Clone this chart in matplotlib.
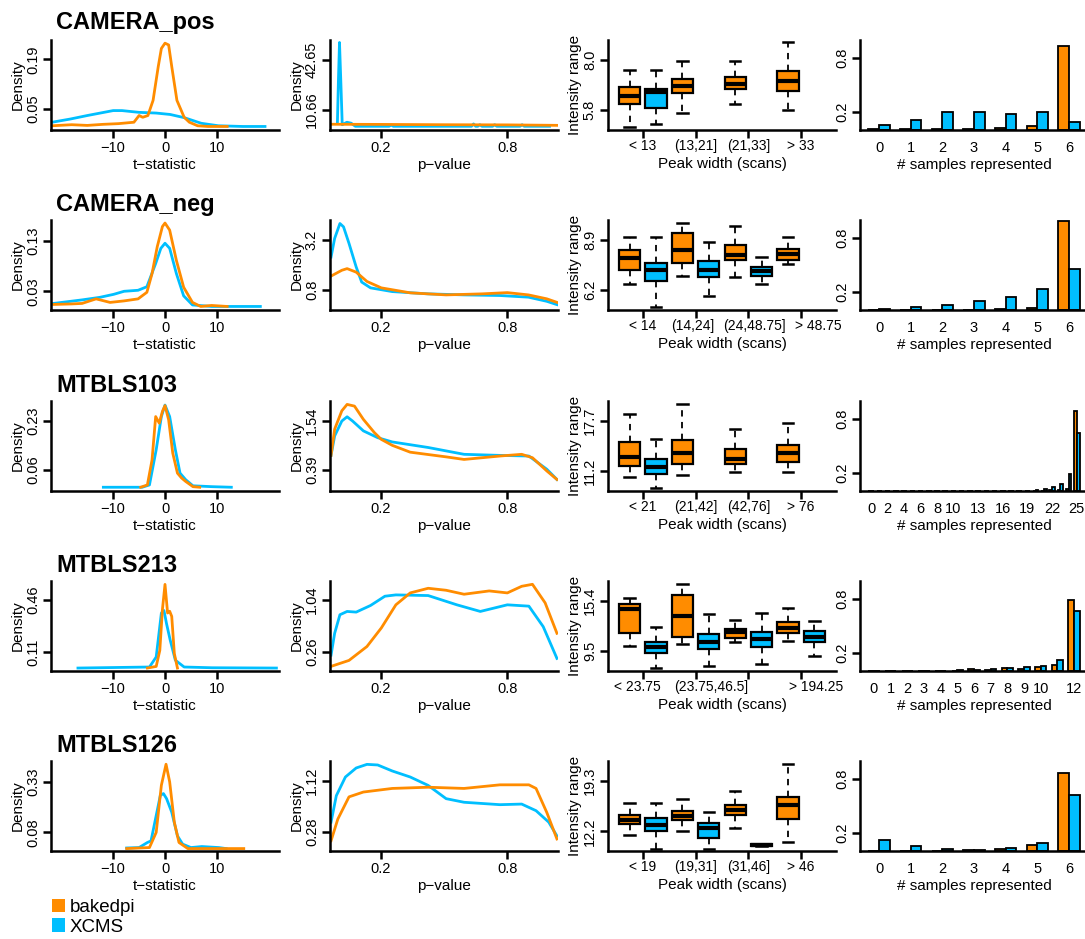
import matplotlib
matplotlib.use("Agg")
import matplotlib.pyplot as plt
from matplotlib.patches import Patch

plt.rcParams['font.family'] = ['Liberation Sans', 'DejaVu Sans']

ORANGE = '#FF8C00'
BLUE = '#00BFFF'

datasets = ['CAMERA_pos', 'CAMERA_neg', 'MTBLS103', 'MTBLS213', 'MTBLS126']

# ---- t-statistic densities (x, y) ----
cpos_t_bk_x = [-21.8, -18, -15, -12, -9, -6, -5, -4.3, -3.3, -2.3, -1.3, -0.7, 0, 0.7, 1.3, 2.3, 3.7, 4.7, 6.3, 8.3, 12]
cpos_t_bk_y = [0.002, 0.005, 0.003, 0.006, 0.008, 0.012, 0.031, 0.026, 0.031, 0.074, 0.17, 0.221, 0.236, 0.231, 0.17, 0.074, 0.026, 0.012, 0.002, 0.0, 0.0]
cpos_t_xc_x = [-21.8, -18.3, -15, -10, -8.3, -5, -1.7, 1, 3.7, 7, 10.3, 15, 19.3]
cpos_t_xc_y = [0.012, 0.021, 0.031, 0.045, 0.045, 0.040, 0.038, 0.034, 0.025, 0.009, 0.002, 0.0, 0.0]

cneg_t_bk_x = [-21.5, -18, -16, -13.3, -10.6, -7.9, -5.2, -3.5, -2.5, -1.5, -0.5, 0, 0.9, 2.2, 3.6, 5.3, 6.9, 9, 12]
cneg_t_bk_y = [0.004, 0.005, 0.006, 0.015, 0.008, 0.011, 0.015, 0.028, 0.065, 0.118, 0.158, 0.165, 0.151, 0.091, 0.038, 0.008, 0.0, 0.002, 0.0]
cneg_t_xc_x = [-21.5, -16, -12.6, -9.9, -7.9, -5.2, -3.5, -1.8, -0.8, 0, 0.9, 2.2, 3.6, 5.3, 9, 18.4]
cneg_t_xc_y = [0.006, 0.013, 0.018, 0.024, 0.030, 0.032, 0.039, 0.085, 0.115, 0.125, 0.115, 0.065, 0.021, 0.003, 0.0, 0.0]

m103_t_bk_x = [-4.7, -3.4, -2.5, -1.8, -1.1, -0.5, 0, 0.7, 1.5, 2.4, 3.2, 4, 5.4, 6.7]
m103_t_bk_y = [0, 0.008, 0.095, 0.245, 0.222, 0.263, 0.283, 0.234, 0.118, 0.049, 0.032, 0.02, 0.002, 0]
m103_t_xc_x = [-11.9, -4.4, -3, -1.7, -0.7, 0, 0.9, 2, 2.9, 4, 5.4, 9.1, 12.8]
m103_t_xc_y = [0, 0, 0.008, 0.13, 0.245, 0.285, 0.245, 0.13, 0.049, 0.026, 0.005, 0.002, 0]

m213_t_bk_x = [-3.4, -1.7, -1, -0.5, 0, 0.5, 0.9, 1.3, 1.8, 2.4]
m213_t_bk_y = [0, 0.011, 0.12, 0.396, 0.567, 0.373, 0.385, 0.35, 0.098, 0]
m213_t_xc_x = [-16.8, -3, -1.7, -0.7, -0.2, 0.3, 1, 2, 3.7, 9.1, 21.5]
m213_t_xc_y = [0, 0.007, 0.075, 0.373, 0.39, 0.30, 0.19, 0.053, 0.007, 0.002, 0]

m126_t_bk_x = [-7.4, -3, -1.7, -0.7, 0.2, 0.9, 1.8, 2.7, 4.4, 15.2]
m126_t_bk_y = [0, 0.005, 0.08, 0.313, 0.417, 0.33, 0.13, 0.03, 0, 0]
m126_t_xc_x = [-7.4, -5, -3.4, -2.7, -1.7, -0.9, -0.3, 0.3, 1.3, 2.4, 3.4, 5, 7.1, 10.4, 11.8]
m126_t_xc_y = [0.003, 0.005, 0.03, 0.038, 0.163, 0.263, 0.272, 0.247, 0.18, 0.063, 0.022, 0.005, 0.01, 0.005, 0]

# ---- p-value densities ----
cpos_p_bk_x = [-0.035, 0.2, 0.5, 0.8, 1.035]
cpos_p_bk_y = [1.3, 1.2, 1.0, 0.9, 0.6]
cpos_p_xc_x = [-0.005, 0.0, 0.005, 0.011, 0.018, 0.04, 0.06, 0.08, 0.24, 0.25, 0.26, 0.63, 0.64, 0.65, 0.66, 0.67, 0.68, 0.73, 0.74, 0.75, 0.86, 0.87, 0.88, 1.0]
cpos_p_xc_y = [2, 30, 54, 30, 1, 2.6, 2, 0, 0, 0.8, 0, 0, 1.5, 0, 0, 1, 0, 0, 1, 0, 0, 1, 0, 0]

cneg_p_bk_x = [-0.035, 0.016, 0.041, 0.084, 0.135, 0.203, 0.34, 0.51, 0.68, 0.8, 0.9, 0.987, 1.035]
cneg_p_bk_y = [1.46, 1.74, 1.82, 1.65, 1.2, 0.89, 0.65, 0.55, 0.6, 0.66, 0.55, 0.36, 0.19]
cneg_p_xc_x = [-0.035, -0.018, 0.007, 0.024, 0.05, 0.084, 0.11, 0.152, 0.255, 0.425, 0.595, 0.765, 0.9, 0.987, 1.035]
cneg_p_xc_y = [2.38, 3.28, 4.0, 3.84, 3.04, 1.9, 1.17, 0.89, 0.71, 0.6, 0.55, 0.52, 0.44, 0.24, 0.08]

m103_p_bk_x = [-0.035, -0.018, 0.016, 0.041, 0.076, 0.118, 0.17, 0.203, 0.255, 0.34, 0.51, 0.595, 0.765, 0.868, 0.919, 0.987, 1.035]
m103_p_bk_y = [0.735, 1.35, 1.78, 1.93, 1.89, 1.58, 1.27, 1.11, 0.97, 0.81, 0.70, 0.64, 0.72, 0.76, 0.68, 0.37, 0.17]
m103_p_xc_x = [-0.035, -0.018, 0.016, 0.041, 0.067, 0.118, 0.186, 0.255, 0.425, 0.595, 0.765, 0.902, 0.987, 1.035]
m103_p_xc_y = [0.735, 1.19, 1.54, 1.64, 1.54, 1.31, 1.15, 1.05, 0.92, 0.76, 0.735, 0.72, 0.41, 0.17]

m213_p_bk_x = [-0.035, 0.05, 0.135, 0.203, 0.272, 0.34, 0.425, 0.51, 0.595, 0.714, 0.8, 0.868, 0.919, 0.979, 1.035]
m213_p_bk_y = [0.04, 0.13, 0.34, 0.62, 0.97, 1.15, 1.22, 1.19, 1.13, 1.18, 1.15, 1.25, 1.28, 1.0, 0.54]
m213_p_xc_x = [-0.035, -0.018, 0.007, 0.041, 0.084, 0.152, 0.22, 0.272, 0.425, 0.561, 0.672, 0.8, 0.902, 0.97, 1.035]
m213_p_xc_y = [0.21, 0.54, 0.82, 0.87, 0.86, 0.96, 1.10, 1.12, 1.11, 0.97, 0.87, 0.97, 0.95, 0.64, 0.16]

m126_p_bk_x = [-0.035, -0.003, 0.05, 0.118, 0.255, 0.425, 0.595, 0.765, 0.902, 0.936, 0.987, 1.035]
m126_p_bk_y = [0.13, 0.49, 0.86, 0.94, 1.0, 1.02, 1.0, 1.06, 1.06, 1.0, 0.60, 0.16]
m126_p_xc_x = [-0.035, -0.01, 0.033, 0.084, 0.135, 0.186, 0.255, 0.34, 0.425, 0.51, 0.595, 0.765, 0.868, 0.936, 0.996, 1.035]
m126_p_xc_y = [0.44, 0.88, 1.19, 1.34, 1.40, 1.39, 1.29, 1.19, 1.05, 0.83, 0.77, 0.73, 0.74, 0.63, 0.44, 0.21]

# ---- boxplots: slot (odd = bakedpi, even = XCMS), whisker low, q1, median, q3, whisker high ----
cpos_box_slot = [1, 2, 3, 5, 7]
cpos_box_lo = [5.04, 5.16, 5.65, 6.04, 5.79]
cpos_box_q1 = [6.06, 5.88, 6.53, 6.71, 6.65]
cpos_box_med = [6.43, 6.60, 6.85, 6.95, 7.06]
cpos_box_q3 = [6.80, 6.73, 7.18, 7.25, 7.51]
cpos_box_hi = [7.55, 7.58, 7.96, 7.96, 8.78]

cneg_box_slot = [1, 2, 3, 4, 5, 6, 7]
cneg_box_lo = [6.53, 5.29, 6.95, 5.87, 6.89, 6.53, 7.59]
cneg_box_q1 = [7.26, 6.67, 7.66, 6.89, 7.84, 6.93, 7.84]
cneg_box_med = [7.95, 7.29, 8.39, 7.29, 8.10, 7.22, 8.13]
cneg_box_q3 = [8.35, 7.66, 9.26, 7.75, 8.66, 7.44, 8.41]
cneg_box_hi = [9.05, 9.05, 9.85, 8.81, 9.67, 7.99, 9.08]

m103_box_slot = [1, 2, 3, 5, 7]
m103_box_lo = [10.45, 9.0, 10.67, 11.11, 11.11]
m103_box_q1 = [11.86, 10.89, 12.08, 12.12, 12.43]
m103_box_med = [13.09, 11.77, 13.53, 12.78, 13.62]
m103_box_q3 = [15.06, 12.74, 15.28, 14.10, 14.63]
m103_box_hi = [18.71, 15.37, 19.98, 16.69, 17.48]

m213_box_slot = [1, 2, 3, 4, 5, 6, 7, 8]
m213_box_lo = [10.14, 7.51, 10.34, 7.75, 10.62, 8.03, 10.70, 8.90]
m213_box_q1 = [11.61, 9.30, 11.13, 9.74, 11.10, 10.02, 11.61, 10.54]
m213_box_med = [14.52, 9.94, 13.61, 10.62, 11.73, 10.94, 12.21, 11.21]
m213_box_q3 = [15.08, 10.62, 16.12, 11.49, 12.09, 11.73, 12.93, 11.93]
m213_box_hi = [15.80, 12.33, 17.47, 13.93, 13.21, 14.00, 14.60, 13.09]

m126_box_slot = [1, 2, 3, 4, 5, 6, 7]
m126_box_lo = [11.68, 9.77, 12.20, 9.77, 12.63, 10.10, 10.77]
m126_box_q1 = [13.25, 12.20, 13.82, 11.34, 14.58, 10.12, 13.96]
m126_box_med = [13.87, 13.15, 14.44, 12.68, 15.25, 10.29, 16.01]
m126_box_q3 = [14.58, 14.06, 15.06, 13.39, 16.01, 10.45, 17.06]
m126_box_hi = [16.25, 16.25, 16.73, 14.92, 17.92, 10.47, 21.68]

cpos_width_labels = ['< 13', '(13,21]', '(21,33]', '> 33']
cneg_width_labels = ['< 14', '(14,24]', '(24,48.75]', '> 48.75']
m103_width_labels = ['< 21', '(21,42]', '(42,76]', '> 76']
m213_width_labels = ['< 23.75', '(23.75,46.5]', '', '> 194.25']
m126_width_labels = ['< 19', '(19,31]', '(31,46]', '> 46']

# ---- fraction of features by number of samples represented ----
cpos_n_bk = [0.008, 0.008, 0.008, 0.012, 0.02, 0.046, 0.936]
cpos_n_xc = [0.057, 0.115, 0.195, 0.195, 0.183, 0.195, 0.088]
cneg_n_bk = [0.005, 0.004, 0.004, 0.005, 0.015, 0.023, 0.994]
cneg_n_xc = [0.011, 0.034, 0.054, 0.10, 0.145, 0.23, 0.46]
m103_n_bk = [0.003] * 20 + [0.004, 0.005, 0.01, 0.01, 0.02, 0.89]
m103_n_xc = [0.003] * 20 + [0.01, 0.02, 0.04, 0.083, 0.19, 0.65]
m213_n_bk = [0.002, 0.002, 0.002, 0.002, 0.003, 0.005, 0.018, 0.014, 0.032, 0.022, 0.047, 0.065, 0.786]
m213_n_xc = [0.002, 0.002, 0.002, 0.002, 0.004, 0.007, 0.01, 0.022, 0.029, 0.043, 0.061, 0.119, 0.67]
m126_n_bk = [0.005, 0.005, 0.003, 0.011, 0.019, 0.067, 0.87]
m126_n_xc = [0.124, 0.056, 0.022, 0.011, 0.034, 0.094, 0.62]

m103_n_shown = [0, 2, 4, 6, 8, 10, 13, 16, 19, 22, 25]
m213_n_shown = [0, 1, 2, 3, 4, 5, 6, 7, 8, 9, 10, 12]

t_yticks = [['0.05', '0.19'], ['0.03', '0.13'], ['0.06', '0.23'], ['0.11', '0.46'], ['0.08', '0.33']]
t_ylims = [(-0.010, 0.245), (-0.007, 0.171), (-0.013, 0.299), (-0.020, 0.590), (-0.012, 0.433)]
p_yticks = [['10.66', '42.65'], ['0.8', '3.2'], ['0.39', '1.54'], ['0.26', '1.04'], ['0.28', '1.12']]
p_ylims = [(-2.4, 55.6), (-0.18, 4.17), (-0.10, 2.01), (-0.03, 1.33), (-0.04, 1.456)]
box_yticks = [['5.8', '8.0'], ['6.2', '8.9'], ['11.2', '17.7'], ['9.5', '15.4'], ['12.2', '19.3']]
box_ylims = [(4.91, 8.89), (5.11, 9.99), (8.61, 20.34), (7.15, 17.79), (9.44, 22.16)]

t_curves = [(cpos_t_bk_x, cpos_t_bk_y, cpos_t_xc_x, cpos_t_xc_y),
            (cneg_t_bk_x, cneg_t_bk_y, cneg_t_xc_x, cneg_t_xc_y),
            (m103_t_bk_x, m103_t_bk_y, m103_t_xc_x, m103_t_xc_y),
            (m213_t_bk_x, m213_t_bk_y, m213_t_xc_x, m213_t_xc_y),
            (m126_t_bk_x, m126_t_bk_y, m126_t_xc_x, m126_t_xc_y)]
p_curves = [(cpos_p_bk_x, cpos_p_bk_y, cpos_p_xc_x, cpos_p_xc_y),
            (cneg_p_bk_x, cneg_p_bk_y, cneg_p_xc_x, cneg_p_xc_y),
            (m103_p_bk_x, m103_p_bk_y, m103_p_xc_x, m103_p_xc_y),
            (m213_p_bk_x, m213_p_bk_y, m213_p_xc_x, m213_p_xc_y),
            (m126_p_bk_x, m126_p_bk_y, m126_p_xc_x, m126_p_xc_y)]
boxes = [(cpos_box_slot, cpos_box_lo, cpos_box_q1, cpos_box_med, cpos_box_q3, cpos_box_hi, cpos_width_labels),
         (cneg_box_slot, cneg_box_lo, cneg_box_q1, cneg_box_med, cneg_box_q3, cneg_box_hi, cneg_width_labels),
         (m103_box_slot, m103_box_lo, m103_box_q1, m103_box_med, m103_box_q3, m103_box_hi, m103_width_labels),
         (m213_box_slot, m213_box_lo, m213_box_q1, m213_box_med, m213_box_q3, m213_box_hi, m213_width_labels),
         (m126_box_slot, m126_box_lo, m126_box_q1, m126_box_med, m126_box_q3, m126_box_hi, m126_width_labels)]
counts = [(cpos_n_bk, cpos_n_xc, None), (cneg_n_bk, cneg_n_xc, None),
          (m103_n_bk, m103_n_xc, m103_n_shown), (m213_n_bk, m213_n_xc, m213_n_shown),
          (m126_n_bk, m126_n_xc, None)]

# small horizontal nudges (points) of the peak-width labels, as they sit in the original
width_label_dx = [[0, 0, 0, 0], [0, -2, 4, 12], [0, 0, 0, 0], [-4, 11, 0, 11], [0, 0, 0, 0]]

# ---- layout (pixels) ----
W, H = 1085, 939
fig = plt.figure(figsize=(W / 100, H / 100), dpi=100)
col_left = [51, 330, 608, 860]
col_w = 228
row_bottom = [130, 310, 491, 671, 851]
row_h = 90
title_y = [22, 205, 386, 566, 746]
FS = 10.5
LFS = 11


def add_ax(col, row):
    return fig.add_axes([col_left[col] / W, 1 - row_bottom[row] / H, col_w / W, row_h / H])


def style(ax, yticks=None):
    for s in ['top', 'right']:
        ax.spines[s].set_visible(False)
    for s in ['left', 'bottom']:
        ax.spines[s].set_linewidth(1.8)
    ax.tick_params(length=6, width=1.8, labelsize=FS, pad=2)
    if yticks is not None:
        ax.set_yticks([float(v) for v in yticks], yticks)
    for lab in ax.get_yticklabels():
        lab.set_rotation(90)
        lab.set_va('center')


for r in range(5):
    fig.text(56 / W, 1 - title_y[r] / H, datasets[r], fontsize=17, weight='bold', va='center')

    # t-statistic density
    ax = add_ax(0, r)
    bx, by, xx, xy = t_curves[r]
    ax.plot(xx, xy, color=BLUE, lw=2)
    ax.plot(bx, by, color=ORANGE, lw=2)
    ax.set_xlim(-22, 22)
    ax.set_ylim(*t_ylims[r])
    ax.set_xticks([-10, 0, 10], ['\u221210', '0', '10'])
    style(ax, t_yticks[r])
    ax.set_xlabel('t\u2212statistic', fontsize=LFS, labelpad=2)
    ax.set_ylabel('Density', fontsize=LFS, labelpad=1)

    # p-value density
    ax = add_ax(1, r)
    bx, by, xx, xy = p_curves[r]
    ax.plot(xx, xy, color=BLUE, lw=2)
    ax.plot(bx, by, color=ORANGE, lw=2)
    ax.set_xlim(-0.04, 1.04)
    ax.set_ylim(*p_ylims[r])
    ax.set_xticks([0.2, 0.8], ['0.2', '0.8'])
    style(ax, p_yticks[r])
    ax.set_xlabel('p\u2212value', fontsize=LFS, labelpad=2)
    ax.set_ylabel('Density', fontsize=LFS, labelpad=1)

    # intensity range by peak width
    ax = add_ax(2, r)
    slot, lo, q1, med, q3, hi, wlabels = boxes[r]
    stats = [dict(whislo=a, q1=b, med=c, q3=d, whishi=e, fliers=[])
             for a, b, c, d, e in zip(lo, q1, med, q3, hi)]
    bp = ax.bxp(stats, positions=slot, widths=0.8, patch_artist=True, showfliers=False,
                manage_ticks=False, capwidths=0.4,
                boxprops=dict(linewidth=1.6, edgecolor='black'),
                medianprops=dict(color='black', linewidth=3, solid_capstyle='butt'),
                whiskerprops=dict(linestyle=(0, (3.5, 3)), linewidth=1.3, color='black'),
                capprops=dict(linewidth=1.8, color='black'))
    for patch, s in zip(bp['boxes'], slot):
        patch.set_facecolor(ORANGE if s % 2 == 1 else BLUE)
    ax.set_xlim(0.18, 8.82)
    ax.set_ylim(*box_ylims[r])
    tick_x = [1.5, 3.5, 5.5, 7.5]
    ax.set_xticks(tick_x, [''] * 4)
    style(ax, box_yticks[r])
    for tx, lab, dx in zip(tick_x, wlabels, width_label_dx[r]):
        ax.annotate(lab, xy=(tx, 0), xycoords=ax.get_xaxis_transform(),
                    xytext=(dx, -6.5), textcoords='offset points',
                    ha='center', va='top', fontsize=10)
    ax.set_xlabel('Peak width (scans)', fontsize=LFS, labelpad=11.5)
    ax.set_ylabel('Intensity range', fontsize=LFS, labelpad=1)

    # samples represented
    ax = add_ax(3, r)
    nbk, nxc, shown = counts[r]
    n = len(nbk)
    ax.bar([3 * g + 1 for g in range(n)], nbk, width=1, align='edge',
           color=ORANGE, edgecolor='black', linewidth=1.3)
    ax.bar([3 * g + 2 for g in range(n)], nxc, width=1, align='edge',
           color=BLUE, edgecolor='black', linewidth=1.3)
    span = 3 * n - 1
    ax.set_xlim(1 - 0.04 * span, 3 * n + 0.04 * span)
    ax.set_ylim(0, 1.0)
    if shown is None:
        shown = list(range(n))
    ax.set_xticks([3 * g + 2 for g in shown], [str(g) for g in shown])
    style(ax, ['0.2', '0.8'])
    ax.tick_params(axis='x', length=0, pad=8)
    ax.set_xlabel('# samples represented', fontsize=LFS, labelpad=2)

fig.legend(handles=[Patch(facecolor=ORANGE), Patch(facecolor=BLUE)],
           labels=['bakedpi', 'XCMS'], loc='upper left',
           bbox_to_anchor=(52 / W, 1 - 899 / H), frameon=False, fontsize=13.5,
           handlelength=0.7, handleheight=0.7, handletextpad=0.25,
           labelspacing=0.12, borderaxespad=0, borderpad=0)

fig.savefig('out.png', dpi=100)
